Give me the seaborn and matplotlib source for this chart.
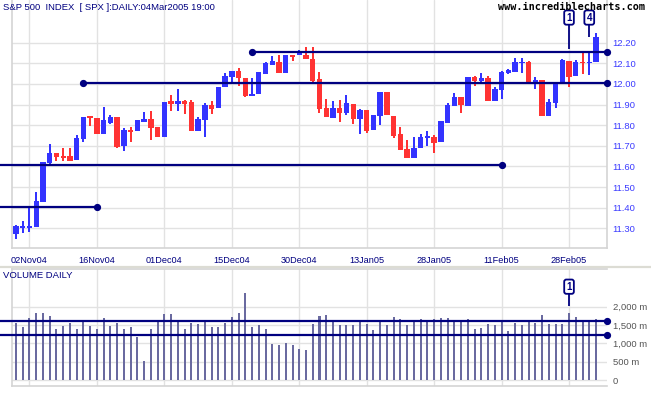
import matplotlib
matplotlib.use("Agg")
import matplotlib.pyplot as plt
import seaborn as sns
import numpy as np
import pandas as pd
from matplotlib.lines import Line2D

# ---------------- data ----------------
dates = ["29Oct04", "01Nov04", "02Nov04", "03Nov04", "04Nov04", "05Nov04", "08Nov04", "09Nov04",
         "10Nov04", "11Nov04", "12Nov04", "15Nov04", "16Nov04", "17Nov04", "18Nov04", "19Nov04",
         "22Nov04", "23Nov04", "24Nov04", "26Nov04", "29Nov04", "30Nov04", "01Dec04", "02Dec04",
         "03Dec04", "06Dec04", "07Dec04", "08Dec04", "09Dec04", "10Dec04", "13Dec04", "14Dec04",
         "15Dec04", "16Dec04", "17Dec04", "20Dec04", "21Dec04", "22Dec04", "23Dec04", "27Dec04",
         "28Dec04", "29Dec04", "30Dec04", "31Dec04", "03Jan05", "04Jan05", "05Jan05", "06Jan05",
         "07Jan05", "10Jan05", "11Jan05", "12Jan05", "13Jan05", "14Jan05", "18Jan05", "19Jan05",
         "20Jan05", "21Jan05", "24Jan05", "25Jan05", "26Jan05", "27Jan05", "28Jan05", "31Jan05",
         "01Feb05", "02Feb05", "03Feb05", "04Feb05", "07Feb05", "08Feb05", "09Feb05", "10Feb05",
         "11Feb05", "14Feb05", "15Feb05", "16Feb05", "17Feb05", "18Feb05", "22Feb05", "23Feb05",
         "24Feb05", "25Feb05", "28Feb05", "01Mar05", "02Mar05", "03Mar05", "04Mar05"]

open_ = [11.274, 11.300, 11.303, 11.306, 11.427, 11.618, 11.665, 11.650, 11.650, 11.632, 11.732,
         11.843, 11.835, 11.758, 11.809, 11.841, 11.700, 11.778, 11.770, 11.814, 11.830, 11.790,
         11.741, 11.919, 11.903, 11.919, 11.911, 11.770, 11.825, 11.900, 11.883, 11.984, 12.032,
         12.061, 12.030, 11.940, 11.951, 12.049, 12.092, 12.105, 12.052, 12.138, 12.141, 12.142,
         12.121, 12.024, 11.883, 11.835, 11.883, 11.859, 11.903, 11.830, 11.874, 11.776, 11.843,
         11.963, 11.846, 11.757, 11.684, 11.641, 11.689, 11.738, 11.744, 11.717, 11.809, 11.892,
         11.935, 11.895, 12.032, 12.013, 12.029, 11.916, 11.971, 12.052, 12.057, 12.100, 12.108,
         12.008, 12.021, 11.843, 11.906, 12.000, 12.113, 12.040, 12.105, 12.100, 12.105]
high = [11.315, 11.334, 11.406, 11.474, 11.621, 11.710, 11.665, 11.690, 11.690, 11.750, 11.842,
        11.843, 11.835, 11.887, 11.851, 11.841, 11.785, 11.793, 11.825, 11.866, 11.871, 11.790,
        11.914, 11.948, 11.976, 11.924, 11.924, 11.841, 11.906, 11.916, 11.987, 12.055, 12.061,
        12.078, 12.030, 12.029, 12.057, 12.108, 12.137, 12.142, 12.138, 12.138, 12.167, 12.178,
        12.181, 12.060, 11.927, 11.919, 11.922, 11.948, 11.903, 11.879, 11.874, 11.850, 11.963,
        11.963, 11.846, 11.793, 11.728, 11.744, 11.757, 11.773, 11.754, 11.822, 11.906, 11.955,
        11.935, 12.036, 12.040, 12.052, 12.040, 11.987, 12.065, 12.073, 12.126, 12.126, 12.113,
        12.032, 12.021, 11.927, 12.003, 12.121, 12.113, 12.117, 12.154, 12.154, 12.246]
low = [11.247, 11.277, 11.282, 11.306, 11.427, 11.608, 11.626, 11.626, 11.626, 11.632, 11.718,
       11.798, 11.758, 11.758, 11.806, 11.689, 11.676, 11.717, 11.770, 11.814, 11.728, 11.741,
       11.741, 11.871, 11.871, 11.854, 11.770, 11.770, 11.744, 11.854, 11.883, 11.984, 12.000,
       11.992, 11.935, 11.940, 11.951, 12.049, 12.092, 12.052, 12.052, 12.110, 12.141, 12.121,
       12.000, 11.858, 11.838, 11.835, 11.814, 11.850, 11.806, 11.757, 11.762, 11.776, 11.803,
       11.850, 11.736, 11.680, 11.641, 11.641, 11.689, 11.700, 11.663, 11.717, 11.809, 11.892,
       11.858, 11.895, 11.992, 12.000, 11.916, 11.916, 11.927, 12.049, 12.057, 12.052, 12.008,
       11.976, 11.843, 11.843, 11.883, 12.000, 11.984, 12.040, 12.049, 12.045, 12.105]
close = [11.310, 11.310, 11.310, 11.432, 11.621, 11.665, 11.645, 11.642, 11.626, 11.739, 11.842,
         11.835, 11.758, 11.823, 11.841, 11.696, 11.778, 11.769, 11.825, 11.830, 11.785, 11.741,
         11.914, 11.903, 11.919, 11.903, 11.770, 11.830, 11.900, 11.879, 11.987, 12.037, 12.061,
         12.028, 11.940, 11.951, 12.057, 12.102, 12.110, 12.052, 12.138, 12.129, 12.146, 12.121,
         12.016, 11.879, 11.838, 11.883, 11.859, 11.908, 11.830, 11.875, 11.773, 11.850, 11.963,
         11.850, 11.749, 11.680, 11.641, 11.689, 11.741, 11.749, 11.712, 11.819, 11.900, 11.939,
         11.900, 12.036, 12.013, 12.029, 11.916, 11.976, 12.057, 12.068, 12.105, 12.108, 12.008,
         12.019, 11.843, 11.914, 12.003, 12.117, 12.032, 12.105, 12.100, 12.105, 12.227]
volume_m = [1550, 1441, 1694, 1820, 1820, 1757, 1378, 1486, 1550, 1405, 1577, 1486, 1378, 1703,
            1486, 1568, 1405, 1459, 1162, 514, 1405, 1604, 1811, 1811, 1622, 1378, 1568, 1541,
            1649, 1459, 1459, 1568, 1730, 1838, 2378, 1459, 1514, 1405, 973, 946, 1000, 946,
            838, 811, 1541, 1757, 1784, 1622, 1514, 1514, 1514, 1622, 1541, 1351, 1622, 1514,
            1730, 1676, 1514, 1649, 1676, 1622, 1676, 1703, 1703, 1622, 1622, 1676, 1378, 1432,
            1541, 1514, 1622, 1324, 1568, 1514, 1622, 1568, 1784, 1541, 1541, 1541, 1838, 1730,
            1622, 1649, 1676]

tick_dates = ["02Nov04", "16Nov04", "01Dec04", "15Dec04", "30Dec04", "13Jan05", "28Jan05",
              "11Feb05", "28Feb05"]
price_ticks = [11.30, 11.40, 11.50, 11.60, 11.70, 11.80, 11.90, 12.00, 12.10, 12.20]
vol_ticks = [0, 500, 1000, 1500, 2000]
vol_tick_labels = ["0", "500 m", "1,000 m", "1,500 m", "2,000 m"]

# trend lines: level, start date (None = from left edge), end date (None = to right edge)
price_levels = [12.156, 12.003, 11.606, 11.401]
price_level_start = ["20Dec04", "12Nov04", None, None]
price_level_end = [None, None, "11Feb05", "16Nov04"]
vol_levels = [1622, 1224]

signal_dates = ["28Feb05", "03Mar05"]
signal_labels = ["1", "4"]
signal_ends = [12.169, 12.229]
vol_signal_dates = ["28Feb05"]
vol_signal_labels = ["1"]
vol_signal_ends = [2030]

# ---------------- style ----------------
sns.set_style("white")
plt.rcParams["font.family"] = ["Liberation Sans", "DejaVu Sans"]

BLUE = "#3333ff"
RED = "#ff3333"
NAVY = "#000080"
GRID = "#e2e2e2"
SPINE = "#d4d4d4"
VOLC = "#6a6aa0"

W, H = 651, 395
fig = plt.figure(figsize=(W / 100, H / 100), dpi=100)
fig.patch.set_facecolor("white")

def px_rect(x0, y0, x1, y1):
    return [x0 / W, 1 - y1 / H, (x1 - x0) / W, (y1 - y0) / H]

ax = fig.add_axes(px_rect(12, 0, 607, 248))
axv = fig.add_axes(px_rect(12, 269, 607, 386))

n = len(dates)
idx = np.arange(n)
pos = {d: i for i, d in enumerate(dates)}
px_per_bar = 6.75
xl = (-4.0 / px_per_bar, n - 1 + 11.0 / px_per_bar)
x_left_fig = xl[0] - 12.0 / px_per_bar

df = pd.DataFrame({"i": idx, "date": dates, "open": open_, "high": high, "low": low,
                   "close": close, "volume": volume_m})
up = df["close"] >= df["open"]
colors = np.where(up, BLUE, RED)

# separator band between panels
fig.add_artist(Line2D([0, 1], [1 - 267 / H, 1 - 267 / H], transform=fig.transFigure,
                      color="#dcdcd4", lw=1.6))

# ---------------- price panel ----------------
for tx in [pos[d] for d in tick_dates]:
    ax.axvline(tx, color=GRID, lw=1.0, zorder=0)
for ty in price_ticks:
    ax.axhline(ty, color=GRID, lw=1.0, zorder=0)

ax.vlines(df["i"], df["low"], df["high"], colors=colors, lw=1.4, zorder=3, antialiased=False)
body_lo = np.minimum(df["open"], df["close"])
body_h = np.maximum(np.abs(df["close"] - df["open"]), 0.007)
bars = ax.bar(df["i"], body_h, bottom=body_lo, width=0.8, color=colors, linewidth=0, zorder=4)
for b in bars:
    b.set_antialiased(False)

for lev, s, e in zip(price_levels, price_level_start, price_level_end):
    x0 = pos[s] if s is not None else x_left_fig
    x1 = pos[e] if e is not None else xl[1]
    ax.plot([x0, x1], [lev, lev], color=NAVY, lw=1.6, zorder=5, clip_on=False,
            solid_capstyle="butt")
    if s is not None:
        ax.plot([x0], [lev], "o", color=NAVY, ms=4.2, zorder=6, clip_on=False)
    ax.plot([x1], [lev], "o", color=NAVY, ms=4.2, zorder=6, clip_on=False)

box_y = 12.322
for d, lab, end in zip(signal_dates, signal_labels, signal_ends):
    ax.vlines(pos[d], end, box_y - 0.026, colors=NAVY, lw=1.3, zorder=6)
    ax.text(pos[d], box_y, lab, ha="center", va="center", fontsize=7, color=NAVY,
            fontweight="bold", zorder=7,
            bbox=dict(boxstyle="round,pad=0.22", fc="white", ec=NAVY, lw=1.3))

ax.set_xlim(*xl)
ax.set_ylim(11.2044, 12.4071)
ax.set_xticks([pos[d] for d in tick_dates])
ax.set_xticklabels(tick_dates, fontsize=6.6, color=NAVY)
ax.set_yticks(price_ticks)
ax.set_yticklabels([f"{t:.2f}" for t in price_ticks], fontsize=6.8, color="#3b3bff")
ax.yaxis.tick_right()
ax.tick_params(axis="y", length=0, pad=4)
ax.tick_params(axis="x", length=3, color=SPINE, pad=3)
ax.spines["top"].set_visible(False)
for side in ["left", "right", "bottom"]:
    ax.spines[side].set_color(SPINE)
    ax.spines[side].set_linewidth(1.2)

# ---------------- volume panel ----------------
for tx in [pos[d] for d in tick_dates]:
    axv.axvline(tx, color=GRID, lw=1.0, zorder=0)
for ty in vol_ticks:
    axv.axhline(ty, color=GRID, lw=1.0, zorder=0)

sns.barplot(data=df, x="i", y="volume", ax=axv, color=VOLC, saturation=1, width=0.3,
            errorbar=None, zorder=3, linewidth=0)
for p in axv.patches:
    p.set_antialiased(False)

for lev in vol_levels:
    axv.plot([x_left_fig, xl[1]], [lev, lev], color=NAVY, lw=1.6, zorder=5, clip_on=False)
    axv.plot([xl[1]], [lev], "o", color=NAVY, ms=4.2, zorder=6, clip_on=False)

vbox_y = 2545
for d, lab, end in zip(vol_signal_dates, vol_signal_labels, vol_signal_ends):
    axv.vlines(pos[d], end, vbox_y - 150, colors=NAVY, lw=1.3, zorder=6)
    axv.text(pos[d], vbox_y, lab, ha="center", va="center", fontsize=7, color=NAVY,
             fontweight="bold", zorder=7,
             bbox=dict(boxstyle="round,pad=0.22", fc="white", ec=NAVY, lw=1.3))

axv.set_xlim(*xl)
axv.set_ylim(-162, 3027)
axv.set_xticks([pos[d] for d in tick_dates])
axv.set_xticklabels([])
axv.set_xlabel("")
axv.set_ylabel("")
axv.set_yticks(vol_ticks)
axv.set_yticklabels(vol_tick_labels, fontsize=6.8, color="#555555")
axv.yaxis.tick_right()
axv.tick_params(axis="y", length=0, pad=4)
axv.tick_params(axis="x", length=5, color=SPINE)
for side in ["left", "right", "bottom", "top"]:
    axv.spines[side].set_color(SPINE)
    axv.spines[side].set_linewidth(1.2)
axv.spines["right"].set_visible(False)

# ---------------- texts ----------------
fig.text(3 / W, 1 - 7 / H, "S&P 500  INDEX  [ SPX ]:DAILY:04Mar2005 19:00", fontsize=6.8,
         color=NAVY, ha="left", va="center")
fig.text(645 / W, 1 - 7.5 / H, "www.incrediblecharts.com", fontsize=7.3, fontweight="bold",
         family="DejaVu Sans Mono", color="black", ha="right", va="center")
fig.text(3 / W, 1 - 275 / H, "VOLUME DAILY", fontsize=6.8, color=NAVY, ha="left", va="center")

fig.savefig("out.png", dpi=100, facecolor="white")
